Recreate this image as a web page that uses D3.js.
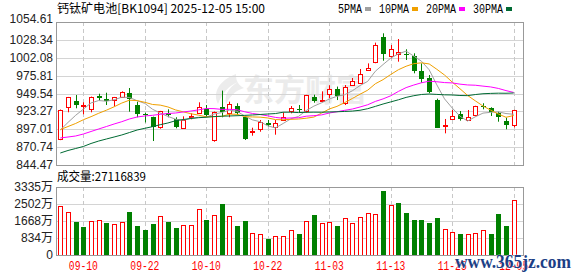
<!DOCTYPE html>
<html>
<head>
<meta charset="utf-8">
<script src="https://cdn.jsdelivr.net/npm/d3@7"></script>
<style>
body { margin: 0; background: #fff; }
</style>
</head>
<body>
<svg id="chart" width="578" height="276"></svg>
<script>
var title = "钙钛矿电池[BK1094] 2025-12-05 15:00";
var volTitle = "成交量:27116839";

var dates = ["2025-09-05","2025-09-08","2025-09-09","2025-09-10","2025-09-11","2025-09-12","2025-09-15","2025-09-16","2025-09-17","2025-09-18",
  "2025-09-19","2025-09-22","2025-09-23","2025-09-24","2025-09-25","2025-09-26","2025-09-29","2025-09-30","2025-10-09","2025-10-10",
  "2025-10-13","2025-10-14","2025-10-15","2025-10-16","2025-10-17","2025-10-20","2025-10-21","2025-10-22","2025-10-23","2025-10-24",
  "2025-10-27","2025-10-28","2025-10-29","2025-10-30","2025-10-31","2025-11-03","2025-11-04","2025-11-05","2025-11-06","2025-11-07",
  "2025-11-10","2025-11-11","2025-11-12","2025-11-13","2025-11-14","2025-11-17","2025-11-18","2025-11-19","2025-11-20","2025-11-21",
  "2025-11-24","2025-11-25","2025-11-26","2025-11-27","2025-11-28","2025-12-01","2025-12-02","2025-12-03","2025-12-04","2025-12-05"];

var open = [882.2,929.3,938.5,931.5,926.3,946.1,941.5,938.9,944.4,949.8,
  933.1,920.0,915.0,899.3,920.4,911.6,899.3,915.0,921.9,926.8,
  881.2,929.3,921.9,931.1,914.6,893.0,897.8,906.6,900.7,911.6,
  924.3,926.8,923.9,944.8,938.0,948.9,955.7,935.2,961.6,964.5,
  984.5,994.8,1032.1,1003.6,1007.1,1007.6,1004.6,983.1,972.3,939.9,
  902.5,911.6,919.0,911.6,916.8,931.5,927.8,920.4,909.6,902.8];
var high = [926.0,944.5,947.3,936.6,945.0,949.2,950.7,944.5,952.7,957.6,
  937.5,921.5,915.5,924.0,926.3,914.6,916.0,920.4,936.6,932.6,
  923.0,953.8,937.5,935.2,916.5,899.3,910.6,910.6,910.6,921.9,
  931.1,932.6,947.5,947.8,952.7,961.6,959.7,962.0,972.3,985.5,
  993.8,1024.3,1038.0,1020.8,1029.6,1014.5,1008.6,993.8,976.7,941.9,
  912.1,925.3,923.8,925.3,931.5,935.2,929.3,922.8,914.0,925.5];
var low = [881.0,921.9,927.8,919.0,921.9,939.2,932.6,930.7,943.0,922.8,
  914.6,907.0,879.7,897.8,914.6,898.4,898.0,911.6,920.4,914.6,
  878.7,914.6,914.6,918.0,881.2,887.5,893.4,901.0,889.0,910.6,
  920.4,921.4,921.4,936.0,937.5,942.5,939.9,932.6,961.0,964.0,
  984.0,994.0,997.7,1001.2,996.3,998.8,979.2,965.4,950.0,898.8,
  891.0,911.0,909.6,910.6,916.0,926.3,916.5,908.1,897.0,899.8];
var close = [925.3,943.9,933.1,932.2,943.9,943.1,938.5,943.9,951.3,941.5,
  919.4,919.0,900.7,923.4,916.8,899.3,910.6,916.0,930.1,918.0,
  921.9,921.4,934.5,921.4,882.7,893.9,908.1,903.7,906.2,915.4,
  928.2,925.8,946.9,938.5,939.9,955.7,945.9,958.6,967.4,978.2,
  987.0,1020.4,1007.6,1014.5,1010.1,1006.6,983.1,970.9,951.2,899.3,
  903.7,915.9,911.0,915.4,930.7,930.6,921.9,913.9,903.3,925.3];

// 成交量, 万
var volume = [2403,2109,1618,1373,1667,1716,1585,1520,1618,2125,
  1422,1242,1520,1913,1635,1340,1471,1471,2256,1716,
  1945,2501,1913,1422,1667,1063,1014,785,915,915,
  1210,1014,1651,1945,1553,1602,1422,1798,1553,1847,
  2043,1995,3139,2452,2566,2076,1716,1716,1569,1814,
  1259,1128,1030,1030,1063,1226,1030,2011,1422,2712];
var volUp = [1,1,0,0,1,1,0,1,1,0, 0,0,0,1,0,0,1,1,1,0, 1,0,1,0,0,1,1,0,1,1,
  1,0,1,0,1,1,0,1,1,1, 1,1,0,1,0,0,0,0,0,0, 1,1,0,1,1,1,0,0,0,1];

var ma5 = [895.9,907.0,917.5,926.5,935.7,939.2,938.2,940.3,944.1,943.7,
  938.9,935.0,926.4,920.8,915.9,911.8,910.2,913.2,914.6,914.8,
  919.3,921.5,925.2,923.4,916.4,910.8,908.1,902.0,898.9,905.5,
  912.3,915.9,924.5,931.0,935.9,941.4,945.4,947.7,953.5,961.2,
  967.4,982.3,992.1,1001.5,1007.9,1011.8,1004.4,997.0,984.4,962.2,
  941.6,928.2,916.2,909.1,915.3,920.7,921.9,922.5,920.1,919.0];
var ma10 = [896.5,901.0,905.5,911.0,915.5,920.5,925.0,930.0,935.5,939.7,
  939.1,936.6,933.4,932.5,929.8,925.4,922.6,919.8,917.7,915.3,
  915.6,915.8,919.2,919.0,915.6,915.1,914.8,913.6,911.2,910.9,
  911.6,912.0,913.2,914.9,920.7,926.8,930.6,936.1,942.2,948.5,
  954.4,963.9,969.9,977.5,984.5,989.6,993.4,994.6,993.0,985.1,
  976.7,966.3,956.6,946.7,938.8,931.2,925.1,919.4,914.6,917.2];
var ma20 = [884.2,885.6,887.1,890.0,893.7,897.4,901.0,904.7,908.1,912.1,
  915.0,916.5,917.5,919.0,920.1,920.9,922.4,923.8,925.5,927.5,
  927.3,926.2,926.3,925.7,922.7,920.2,918.7,916.7,914.4,913.1,
  913.6,913.9,916.2,917.0,918.1,920.9,922.7,924.8,926.7,929.7,
  933.0,937.9,941.6,946.2,952.6,958.2,962.0,965.3,967.6,966.8,
  965.6,965.1,963.3,962.1,961.7,960.4,959.2,957.0,953.8,951.1];
var ma30 = [862.1,865.8,868.7,871.7,876.1,879.7,882.7,885.6,888.6,892.2,
  895.9,898.4,900.8,903.7,906.2,909.5,911.3,912.8,914.0,914.7,
  915.6,916.2,916.5,916.9,917.4,918.0,918.7,919.4,920.1,922.0,
  922.1,921.5,921.9,922.1,922.0,922.4,922.7,923.2,923.7,924.9,
  927.2,930.6,934.1,937.2,940.3,943.8,946.3,948.1,948.8,948.2,
  947.6,947.4,946.6,946.4,948.0,949.2,949.7,950.0,949.9,950.3];

var maNames = ["5PMA","10PMA","20PMA","30PMA"];
var maColors = ["#a0a0a0","#f0a000","#ff00ff","#006a33"];

var priceTicks = [1054.61,1028.34,1002.08,975.81,949.54,923.27,897.01,870.74,844.47];
var volTicks = [3335,2502,1668,834,0];
var volTickLabels = ["3335万","2502万","1668万","834万","0"];
var xTicks = ["2025-09-10","2025-09-22","2025-10-10","2025-10-22","2025-11-03","2025-11-13","2025-11-25","2025-12-05"];
var xTickLabels = ["09-10","09-22","10-10","10-22","11-03","11-13","11-25","12-05"];

var red = "#ff0000", green = "#008000";
var left = 56, right = 523;

var svg = d3.select("#chart");

var x = d3.scalePoint().domain(dates).range([60.3, 513.7]);
var y = d3.scaleLinear().domain([844.47, 1054.61]).range([165, 22]);
var yv = d3.scaleLinear().domain([0, 3335]).range([255, 187]);

var px = d => Math.round(x(d)) + 0.5;

// watermark logo
svg.append("path")
  .attr("d", "M236,74 C220,80 212,92 218,104 C222,94 228,86 238,82 C228,88 224,96 226,104 C230,96 236,90 244,88 C236,84 236,78 236,74 Z")
  .attr("fill", "#ececec")
svg.append("text")
  .text("东方财富")
  .attr("x", 243)
  .attr("y", 101)
  .attr("font-family", "Noto Sans CJK SC")
  .attr("font-size", 31)
  .attr("font-weight", "bold")
  .attr("fill", "#ebebeb")

// horizontal grid lines
svg.selectAll("pgrid")
  .data(priceTicks.slice(1, -1))
  .enter()
  .append("line")
  .attr("x1", left)
  .attr("x2", right)
  .attr("y1", d => Math.round(y(d)) + 0.5)
  .attr("y2", d => Math.round(y(d)) + 0.5)
  .attr("stroke", "#d4d4d4")

svg.selectAll("vgrid")
  .data(volTicks.slice(1, -1))
  .enter()
  .append("line")
  .attr("x1", left)
  .attr("x2", right)
  .attr("y1", d => Math.round(yv(d)) + 0.5)
  .attr("y2", d => Math.round(yv(d)) + 0.5)
  .attr("stroke", "#d4d4d4")

// dashed date lines
svg.selectAll("dgrid")
  .data(xTicks)
  .enter()
  .append("line")
  .attr("x1", d => px(d))
  .attr("x2", d => px(d))
  .attr("y1", 22)
  .attr("y2", 165)
  .attr("stroke", "#c8c8c8")
  .attr("stroke-dasharray", "4,3")

svg.selectAll("dgrid2")
  .data(xTicks)
  .enter()
  .append("line")
  .attr("x1", d => px(d))
  .attr("x2", d => px(d))
  .attr("y1", 187)
  .attr("y2", 255)
  .attr("stroke", "#c8c8c8")
  .attr("stroke-dasharray", "4,3")

// candles
var idx = d3.range(dates.length);

svg.selectAll("wick")
  .data(idx)
  .enter()
  .append("line")
  .attr("x1", i => px(dates[i]))
  .attr("x2", i => px(dates[i]))
  .attr("y1", i => y(high[i]))
  .attr("y2", i => y(low[i]))
  .attr("stroke", i => close[i] >= open[i] ? red : green)

svg.selectAll("body")
  .data(idx)
  .enter()
  .append("rect")
  .attr("x", i => close[i] >= open[i] ? px(dates[i]) - 2 : px(dates[i]) - 2.5)
  .attr("width", i => close[i] >= open[i] ? 4 : 5)
  .attr("y", i => close[i] >= open[i] ? Math.round(y(close[i])) + 0.5 : Math.round(y(open[i])))
  .attr("height", i => Math.max(1, Math.round(Math.abs(y(open[i]) - y(close[i])))))
  .attr("fill", i => close[i] >= open[i] ? "white" : green)
  .attr("stroke", i => close[i] >= open[i] ? red : "none")

// moving averages
var mas = [ma5, ma10, ma20, ma30];
mas.forEach(function (m, k) {
  svg.append("path")
    .datum(m)
    .attr("d", d3.line().x((d, i) => x(dates[i])).y(d => y(d)))
    .attr("fill", "none")
    .attr("stroke", maColors[k])
    .attr("stroke-width", 1)
})

// volume bars
svg.selectAll("vol")
  .data(idx)
  .enter()
  .append("rect")
  .attr("x", i => volUp[i] ? px(dates[i]) - 2 : px(dates[i]) - 2.5)
  .attr("width", i => volUp[i] ? 4 : 5)
  .attr("y", i => volUp[i] ? Math.round(yv(volume[i])) + 0.5 : Math.round(yv(volume[i])))
  .attr("height", i => Math.round(255 - yv(volume[i])))
  .attr("fill", i => volUp[i] ? "white" : green)
  .attr("stroke", i => volUp[i] ? red : "none")

// frames
svg.append("rect")
  .attr("x", left + 0.5).attr("y", 22.5)
  .attr("width", right - left).attr("height", 143)
  .attr("fill", "none").attr("stroke", "#999")
svg.append("rect")
  .attr("x", left + 0.5).attr("y", 187.5)
  .attr("width", right - left).attr("height", 68)
  .attr("fill", "none").attr("stroke", "#999")

// axis labels
svg.selectAll("plab")
  .data(priceTicks)
  .enter()
  .append("text")
  .text(d => d.toFixed(2))
  .attr("x", 53)
  .attr("y", (d, i) => i == 0 ? y(d) + 1 : y(d) + 4)
  .attr("text-anchor", "end")
  .attr("font-family", "Liberation Sans")
  .attr("font-size", 12)
  .attr("fill", "#222")

svg.selectAll("vlab")
  .data(volTicks)
  .enter()
  .append("text")
  .text((d, i) => volTickLabels[i])
  .attr("x", 53)
  .attr("y", d => yv(d) + 4)
  .attr("text-anchor", "end")
  .attr("font-family", "Liberation Sans, Noto Sans CJK SC")
  .attr("font-size", 12)
  .attr("fill", "#222")

svg.selectAll("xlab")
  .data(xTicks)
  .enter()
  .append("text")
  .text((d, i) => xTickLabels[i])
  .attr("x", d => x(d))
  .attr("y", 270)
  .attr("text-anchor", "middle")
  .attr("font-family", "Liberation Mono")
  .attr("font-size", 12)
  .attr("textLength", 29)
  .attr("lengthAdjust", "spacingAndGlyphs")
  .attr("fill", red)

// title and legend
svg.append("text")
  .text(title)
  .attr("x", 57)
  .attr("y", 13)
  .attr("font-family", "Noto Sans CJK SC")
  .attr("font-size", 12)
  .attr("textLength", 208)
  .attr("lengthAdjust", "spacingAndGlyphs")
  .attr("fill", "#000")

svg.append("text")
  .text(volTitle)
  .attr("x", 57)
  .attr("y", 181)
  .attr("font-family", "Noto Sans CJK SC")
  .attr("font-size", 12)
  .attr("textLength", 89)
  .attr("lengthAdjust", "spacingAndGlyphs")
  .attr("fill", "#000")

var cx = 338;
maNames.forEach(function (n, k) {
  var w = n.length * 6;
  svg.append("text")
    .text(n)
    .attr("x", cx)
    .attr("y", 13)
    .attr("font-family", "Liberation Mono")
    .attr("font-size", 12)
    .attr("textLength", w)
    .attr("lengthAdjust", "spacingAndGlyphs")
    .attr("fill", "#000")
  svg.append("rect")
    .attr("x", cx + w + 3)
    .attr("y", 7)
    .attr("width", 6)
    .attr("height", 4)
    .attr("fill", maColors[k])
  cx = cx + w + 3 + 6 + 8
})

// site mark bottom right (sits over the last date labels, as in the source image)
svg.append("text")
  .text("www.365jz.com")
  .attr("x", 455)
  .attr("y", 268)
  .attr("font-family", "Liberation Serif")
  .attr("font-size", 18)
  .attr("font-weight", "bold")
  .attr("textLength", 116)
  .attr("lengthAdjust", "spacingAndGlyphs")
  .attr("fill", "#1c3f86")
  .attr("stroke", "white")
  .attr("stroke-width", 0.6)
  .attr("paint-order", "stroke")
</script>
</body>
</html>
